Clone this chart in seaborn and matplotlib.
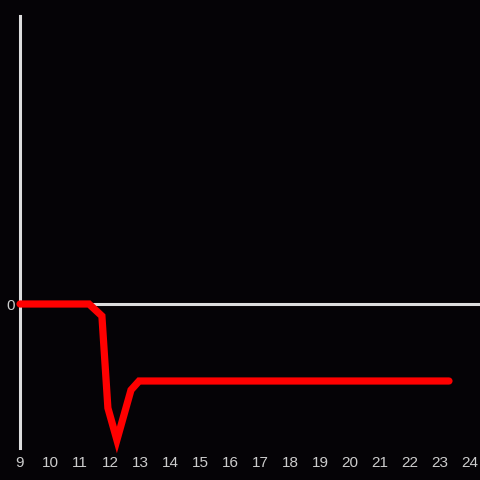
import matplotlib
matplotlib.use("Agg")
import matplotlib.pyplot as plt
import seaborn as sns
import pandas as pd

# values (x in hours, y in arbitrary units)
hours = [9.0, 11.3, 11.73, 11.93, 12.23, 12.7, 12.97, 23.3]
values = [0.0, 0.0, -0.12, -1.04, -1.36, -0.86, -0.77, -0.77]
xticks = list(range(9, 25))

df = pd.DataFrame({"hour": hours, "value": values})

sns.set_style("dark")
plt.rcParams['font.family'] = ['Liberation Sans', 'DejaVu Sans']

bg = "#050306"
fig = plt.figure(figsize=(4.8, 4.8), dpi=100, facecolor=bg)
ax = fig.add_axes([20 / 480, 32 / 480, 460 / 480, 432 / 480])
ax.set_facecolor(bg)

ax.axhline(0, color="#dddddd", lw=2.2, zorder=1)
sns.lineplot(data=df, x="hour", y="value", ax=ax, color="#ff0000", lw=5.2,
             zorder=5, solid_joinstyle="miter", clip_on=False)

ax.set_xlim(9, 9 + 460 / 30)
ax.set_ylim(-1.44, 2.88)
ax.set_xticks(xticks)
ax.set_xticklabels([str(t) for t in xticks])
ax.set_yticks([0])
ax.set_yticklabels(["0"])
ax.set_xlabel("")
ax.set_ylabel("")
ax.grid(False)

for s in ["top", "right", "bottom"]:
    ax.spines[s].set_visible(False)
ax.spines["left"].set_color("#dddddd")
ax.spines["left"].set_linewidth(2.2)
ax.spines["left"].set_zorder(2)

ax.tick_params(axis="both", length=0, colors="#cccccc", labelsize=11)
ax.tick_params(axis="x", pad=6)
ax.tick_params(axis="y", pad=4)

fig.savefig("out.png", dpi=100, facecolor=bg)
